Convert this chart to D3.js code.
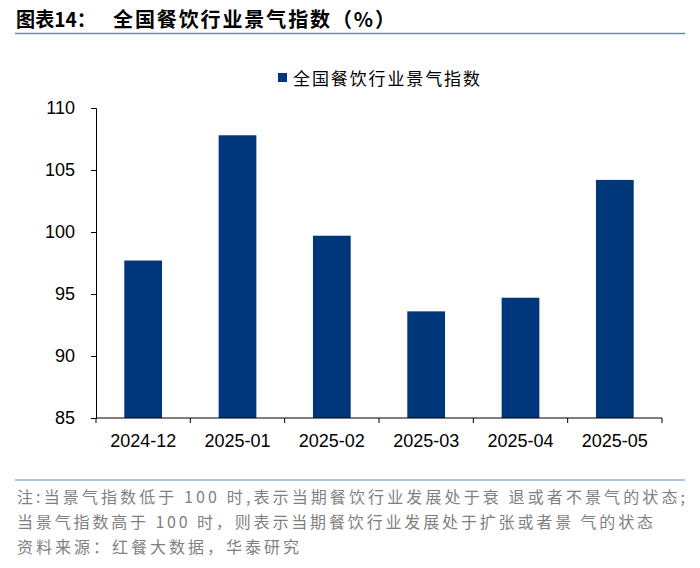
<!DOCTYPE html>
<html>
<head>
<meta charset="utf-8">
<script src="https://cdn.jsdelivr.net/npm/d3@7"></script>
<style>
  body { margin: 0; background: #fff; }
  svg text { font-family: "Liberation Sans", Arial, "Noto Sans CJK SC", sans-serif; }
  .cjk { font-family: "Noto Sans CJK SC", sans-serif; }
</style>
</head>
<body>
<div id="chart"></div>
<script>
// data
const months = ["2024-12", "2025-01", "2025-02", "2025-03", "2025-04", "2025-05"];
const indexValues = [97.7, 107.8, 99.7, 93.6, 94.7, 104.2];
const yTicks = [85, 90, 95, 100, 105, 110];
const seriesName = "全国餐饮行业景气指数";
const titleLabel = "图表14：";
const titleText = "全国餐饮行业景气指数（%）";
const noteLines = [
  "注:当景气指数低于 100 时,表示当期餐饮行业发展处于衰  退或者不景气的状态;",
  "当景气指数高于 100 时，则表示当期餐饮行业发展处于扩张或者景  气的状态",
  "资料来源：红餐大数据，华泰研究"
];
const noteWidths = [668, 636, 282];

const width = 700, height = 568;
const margin = { top: 108, right: 38, bottom: 150, left: 96 };
const barColor = "#00367a";

const svg = d3.select("#chart").append("svg")
  .attr("width", width)
  .attr("height", height);

// title + rule
svg.append("text")
  .attr("class", "cjk")
  .attr("x", 16).attr("y", 27)
  .attr("textLength", 80).attr("lengthAdjust", "spacingAndGlyphs")
  .style("font-size", "20px")
  .style("font-weight", "bold")
  .attr("fill", "#000")
  .text(titleLabel);

svg.append("text")
  .attr("class", "cjk")
  .attr("x", 113).attr("y", 27)
  .attr("textLength", 282).attr("lengthAdjust", "spacing")
  .style("font-size", "20px")
  .style("font-weight", "bold")
  .attr("fill", "#000")
  .text(titleText);

svg.append("line")
  .attr("x1", 15).attr("x2", 685)
  .attr("y1", 33.5).attr("y2", 33.5)
  .attr("stroke", "#5b8bc9").attr("stroke-width", 1.5);

const x = d3.scaleBand()
  .domain(months)
  .range([margin.left, width - margin.right])
  .paddingInner(0.6)
  .paddingOuter(0.3);

const y = d3.scaleLinear()
  .domain([85, 110])
  .range([height - margin.bottom, margin.top]);

// bars
svg.selectAll("rect.bar")
  .data(months.map((m, i) => ({ m, v: indexValues[i] })))
  .enter()
  .append("rect")
  .attr("class", "bar")
  .attr("x", d => x(d.m))
  .attr("width", x.bandwidth())
  .attr("y", d => y(d.v))
  .attr("height", d => y(85) - y(d.v))
  .attr("fill", barColor);

// y axis
const yAxis = d3.axisLeft(y)
  .tickValues(yTicks)
  .tickSize(5)
  .tickPadding(16);

const gy = svg.append("g")
  .attr("transform", `translate(${margin.left},0)`)
  .call(yAxis);
gy.select(".domain").attr("stroke", "#000");
gy.selectAll(".tick line").attr("stroke", "#000");
gy.selectAll(".tick text")
  .style("font-size", "18px")
  .attr("fill", "#000");

// x axis: ticks sit between categories
const gx = svg.append("g")
  .attr("transform", `translate(0,${y(85)})`);
gx.append("line")
  .attr("x1", margin.left).attr("x2", width - margin.right)
  .attr("stroke", "#000");
const edges = d3.range(months.length + 1).map(i => margin.left + i * (width - margin.left - margin.right) / months.length);
gx.selectAll("line.tk")
  .data(edges)
  .enter()
  .append("line")
  .attr("class", "tk")
  .attr("x1", d => d).attr("x2", d => d)
  .attr("y1", 0).attr("y2", 5)
  .attr("stroke", "#000");
gx.selectAll("text")
  .data(months)
  .enter()
  .append("text")
  .attr("x", d => x(d) + x.bandwidth() / 2)
  .attr("y", 29)
  .attr("text-anchor", "middle")
  .style("font-size", "18px")
  .attr("fill", "#000")
  .text(d => d);

// legend
const legend = svg.append("g").attr("transform", "translate(278,72)");
legend.append("rect")
  .attr("width", 9).attr("height", 9)
  .attr("y", 1)
  .attr("fill", barColor);
legend.append("text")
  .attr("class", "cjk")
  .attr("x", 15).attr("y", 13)
  .attr("textLength", 187).attr("lengthAdjust", "spacing")
  .style("font-size", "17px")
  .attr("fill", "#000")
  .text(seriesName);

// footer
svg.append("line")
  .attr("x1", 15).attr("x2", 685)
  .attr("y1", 480).attr("y2", 480)
  .attr("stroke", "#8fb0da").attr("stroke-width", 1.5);

svg.selectAll("text.note")
  .data(noteLines)
  .enter()
  .append("text")
  .attr("class", "note cjk")
  .attr("x", 17)
  .attr("y", (d, i) => 503 + i * 25)
  .attr("textLength", (d, i) => noteWidths[i])
  .attr("lengthAdjust", "spacing")
  .style("font-size", "16px")
  .attr("fill", "#7f7f7f")
  .text(d => d);
</script>
</body>
</html>
